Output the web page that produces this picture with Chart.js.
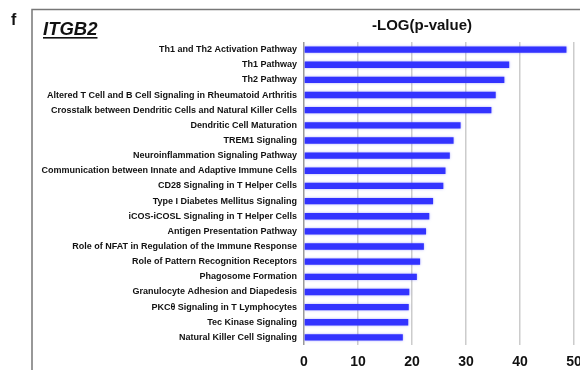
<!DOCTYPE html>
<html>
<head>
<meta charset="utf-8">
<script src="https://cdn.jsdelivr.net/npm/chart.js@4.4.0/dist/chart.umd.min.js"></script>
<style>
    html, body { margin: 0; padding: 0; background: #fff; }
    #wrap { width: 580px; height: 370px; position: relative; }
</style>
</head>
<body>
<div id="wrap"><canvas id="chartPathways"></canvas></div>
<script>
// Vias canônicas (IPA) enriquecidas para ITGB2
const pathways = [
    "Th1 and Th2 Activation Pathway",
    "Th1 Pathway",
    "Th2 Pathway",
    "Altered T Cell and B Cell Signaling in Rheumatoid Arthritis",
    "Crosstalk between Dendritic Cells and Natural Killer Cells",
    "Dendritic Cell Maturation",
    "TREM1 Signaling",
    "Neuroinflammation Signaling Pathway",
    "Communication between Innate and Adaptive Immune Cells",
    "CD28 Signaling in T Helper Cells",
    "Type I Diabetes Mellitus Signaling",
    "iCOS-iCOSL Signaling in T Helper Cells",
    "Antigen Presentation Pathway",
    "Role of NFAT in Regulation of the Immune Response",
    "Role of Pattern Recognition Receptors",
    "Phagosome Formation",
    "Granulocyte Adhesion and Diapedesis",
    "PKCθ Signaling in T Lymphocytes",
    "Tec Kinase Signaling",
    "Natural Killer Cell Signaling"
];

// -log(p-value) de cada via
const logP = [48.6, 38.0, 37.1, 35.5, 34.7, 29.0, 27.7, 27.0, 26.2, 25.8,
              23.9, 23.2, 22.6, 22.2, 21.5, 20.9, 19.5, 19.4, 19.3, 18.3];

const xTicks = [0, 10, 20, 30, 40, 50];

const panelLetter = "f";
const geneName = "ITGB2";
const axisTitle = "-LOG(p-value)";

const FONT = "'Liberation Sans', Arial, Helvetica, sans-serif";

// Moldura, letra do painel, nome do gene e título do eixo
const decorPlugin = {
    id: 'decor',
    beforeDraw(chart) {
        const ctx = chart.ctx;
        ctx.save();
        ctx.fillStyle = '#fff';
        ctx.fillRect(0, 0, chart.width, chart.height);
        ctx.restore();
    },
    afterDraw(chart) {
        const ctx = chart.ctx;
        ctx.save();

        // moldura (só aparecem topo e lado esquerdo)
        ctx.strokeStyle = '#777';
        ctx.lineWidth = 1.5;
        ctx.beginPath();
        ctx.moveTo(32, chart.height + 2);
        ctx.lineTo(32, 9.5);
        ctx.lineTo(chart.width + 2, 9.5);
        ctx.stroke();

        ctx.fillStyle = '#111';
        ctx.textBaseline = 'alphabetic';

        ctx.font = "bold 16px " + FONT;
        ctx.textAlign = 'left';
        ctx.fillText(panelLetter, 11, 25);

        ctx.font = "italic bold 18.5px " + FONT;
        ctx.fillText(geneName, 43, 35);
        const w = ctx.measureText(geneName).width;
        ctx.fillRect(43, 37, w, 1.6);

        ctx.font = "bold 15px " + FONT;
        ctx.textAlign = 'center';
        ctx.fillText(axisTitle, 422, 30);

        ctx.restore();
    }
};

// brilho suave nas barras
const glowPlugin = {
    id: 'glow',
    beforeDatasetsDraw(chart) {
        chart.ctx.save();
        chart.ctx.shadowColor = 'rgba(90, 90, 255, 0.55)';
        chart.ctx.shadowBlur = 2.5;
    },
    afterDatasetsDraw(chart) {
        chart.ctx.restore();
    }
};

document.addEventListener("DOMContentLoaded", () => {
    const el = document.getElementById("chartPathways");

    new Chart(el, {
        type: "bar",
        data: {
            labels: pathways,
            datasets: [{
                label: axisTitle,
                data: logP,
                backgroundColor: "#3333ff",
                borderWidth: 0,
                barPercentage: 0.42,
                categoryPercentage: 1.0
            }]
        },
        options: {
            indexAxis: 'y',
            responsive: true,
            maintainAspectRatio: false,
            animation: false,
            layout: { padding: { top: 42, right: 6, left: 0, bottom: 0 } },
            plugins: {
                legend: { display: false },
                tooltip: { enabled: false }
            },
            scales: {
                x: {
                    min: xTicks[0],
                    max: xTicks[xTicks.length - 1],
                    afterBuildTicks(scale) {
                        scale.ticks = xTicks.map(v => ({ value: v }));
                    },
                    afterFit(scale) {
                        scale.height = 25;
                        scale.paddingLeft = 0;
                        scale.paddingRight = 0;
                    },
                    grid: {
                        color: ctx => ctx.tick && ctx.tick.value === 0 ? '#9a9a9a' : '#cccccc',
                        lineWidth: 1.5,
                        drawTicks: false
                    },
                    border: { display: false },
                    ticks: {
                        color: '#111',
                        font: { family: FONT, size: 14, weight: 'bold' },
                        padding: 9
                    }
                },
                y: {
                    afterFit(scale) {
                        scale.width = 304;
                    },
                    grid: { display: false, drawTicks: false },
                    border: { display: false },
                    ticks: {
                        autoSkip: false,
                        color: '#111',
                        font: { family: FONT, size: 9, weight: 'bold' },
                        padding: 7
                    }
                }
            }
        },
        plugins: [decorPlugin, glowPlugin]
    });
});
</script>
</body>
</html>
